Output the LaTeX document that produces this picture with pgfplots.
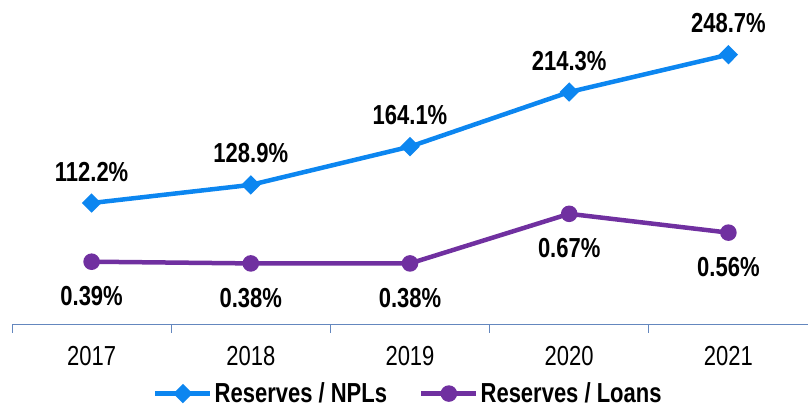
\documentclass[border=0pt]{standalone}
\usepackage{fontspec}
\setmainfont{Liberation Sans}[FakeStretch=0.8]
\usepackage{pgfplots}
\pgfplotsset{compat=1.18}
\definecolor{npl}{RGB}{12,134,240}
\definecolor{loans}{RGB}{112,48,160}
\definecolor{axisblue}{RGB}{100,135,190}

\begin{document}
\begin{tikzpicture}
\useasboundingbox (0,0) rectangle (808pt,409pt);
% left scale: Reserves / NPLs
\begin{axis}[
  at={(12pt,84pt)}, anchor=south west,
  scale only axis,
  width=796pt, height=325pt,
  xmin=-0.5, xmax=4.5,
  ymin=0, ymax=299,
  axis x line*=bottom,
  axis y line=none,
  x axis line style={axisblue, line width=1pt},
  xtick={0,1,2,3,4},
  xticklabels={2017,2018,2019,2020,2021},
  major tick length=0pt,
  xticklabel style={font=\fontsize{27.5}{30}\selectfont, anchor=base, yshift=-41pt},
  extra x ticks={-0.5,0.5,1.5,2.5,3.5,4.5},
  extra x tick labels={},
  extra x tick style={major tick length=8pt, tick align=outside,
    tick style={axisblue, line width=1pt}},
  clip=false,
  point meta=explicit symbolic,
  nodes near coords,
  every node near coord/.append style={font=\bfseries\fontsize{27.5}{30}\selectfont,
    anchor=base, inner sep=0pt, text=black},
  legend columns=2,
  legend style={draw=none, fill=none,
    at={(axis description cs:0.498,-0.211)}, anchor=center,
    font=\bfseries\fontsize{27.5}{30}\selectfont,
    /tikz/every even column/.append style={column sep=30pt}},
  legend image code/.code={
    \draw[mark repeat=2, mark phase=2, #1] plot coordinates {(0pt,0pt) (27.5pt,0pt) (55pt,0pt)};},
]
\addplot[npl, line width=4.5pt, mark=diamond*, mark size=6.5pt,
  mark options={xscale=1.33, solid},
  every node near coord/.append style={yshift=22pt}]
  coordinates {(0,112.2) [112.2\%] (1,128.9) [128.9\%] (2,164.1) [164.1\%]
               (3,214.3) [214.3\%] (4,248.7) [248.7\%]};
\addlegendentry{Reserves / NPLs}
\addlegendimage{loans, line width=4.5pt, mark=*, mark size=6pt}
\addlegendentry{Reserves / Loans}
\end{axis}
% right scale: Reserves / Loans
\begin{axis}[
  at={(12pt,84pt)}, anchor=south west,
  scale only axis,
  width=796pt, height=325pt,
  xmin=-0.5, xmax=4.5,
  ymin=0.02, ymax=1.92,
  hide axis,
  clip=false,
  point meta=explicit symbolic,
  nodes near coords,
  every node near coord/.append style={font=\bfseries\fontsize{27.5}{30}\selectfont,
    anchor=base, inner sep=0pt, text=black, yshift=-44pt},
]
\addplot[loans, line width=4.5pt, mark=*, mark size=6pt]
  coordinates {(0,0.39) [0.39\%] (1,0.38) [0.38\%] (2,0.38) [0.38\%]
               (3,0.67) [0.67\%] (4,0.56) [0.56\%]};
\end{axis}
\end{tikzpicture}
\end{document}
